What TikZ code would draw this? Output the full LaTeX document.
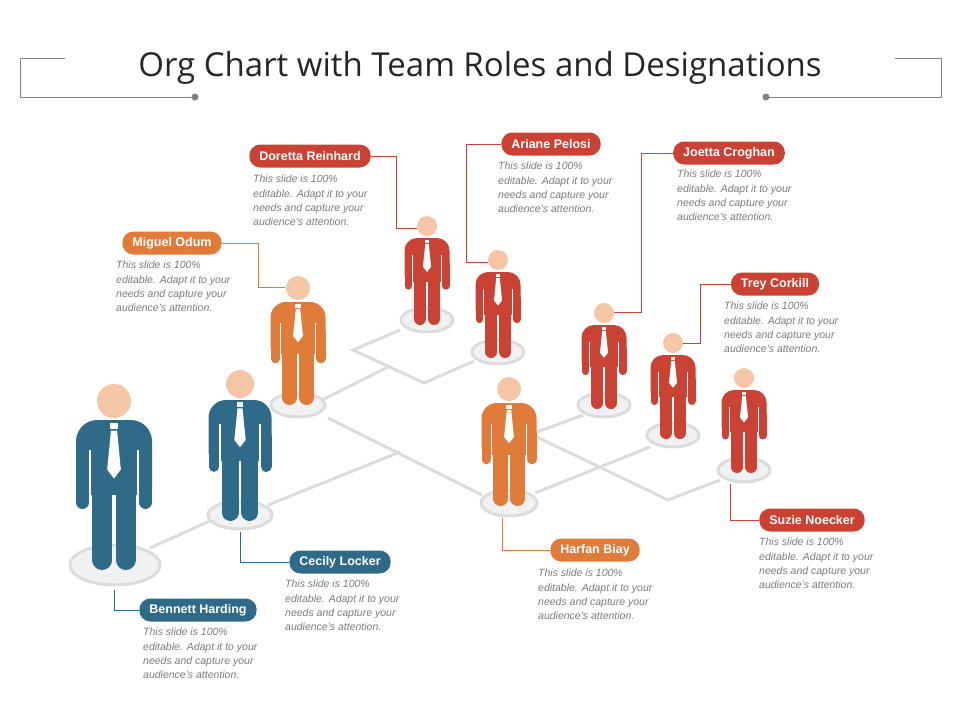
\documentclass[tikz,border=0pt]{standalone}
\usepackage{fontspec}
\setmainfont{Liberation Sans}
\newfontfamily\titlefont{Open Sans}
\definecolor{teal}{HTML}{2F6B88}
\definecolor{orng}{HTML}{E07B39}
\definecolor{rd}{HTML}{C94233}
\definecolor{skin}{HTML}{F5C6A5}
\definecolor{gl}{HTML}{DCDCDC}
\definecolor{txt}{HTML}{7A7A7A}
\tikzset{
 gline/.style={gl,line width=3pt},
 base/.style={draw=gl,line width=3pt,fill=gl!40},
 pill/.style={rounded corners=11pt,minimum height=23pt,text=white,font=\bfseries\fontsize{12.5}{12.5}\selectfont,inner xsep=10pt},
 desc/.style={anchor=north west,align=left,text=txt,font=\itshape\fontsize{10.5}{14.3}\selectfont,inner sep=0pt},
 conn/.style={line width=1pt},
 frame/.style={gray,line width=0.8pt}
}
\newcommand\person[6]{% cx top bottom w color headr
 \pgfmathsetmacro\hh{#3-#2}\pgfmathsetmacro\ww{#4}
 \pgfmathsetmacro\aw{0.17*\ww}\pgfmathsetmacro\rr{0.28*\ww}
 \fill[skin] (#1,#2-#6-2) circle (#6);
 \fill[#5,rounded corners=\rr pt] (#1-\ww/2,#2+0.45*\hh) -- (#1-\ww/2,#2) -- (#1+\ww/2,#2) -- (#1+\ww/2,#2+0.45*\hh);
 \fill[white] (#1-\ww/2+\aw,#2+0.2*\hh) rectangle (#1-\ww/2+\aw*1.15,#2+0.56*\hh);
 \fill[white] (#1+\ww/2-\aw,#2+0.2*\hh) rectangle (#1+\ww/2-\aw*1.15,#2+0.56*\hh);
 \fill[white] (#1-\ww/2-1,#2+0.45*\hh) rectangle (#1+\ww/2+1,#2+0.6*\hh);
 \draw[#5,line width=\aw,line cap=round] (#1-\ww/2+\aw/2,#2+0.3*\hh) -- (#1-\ww/2+\aw/2,#2+0.55*\hh);
 \draw[#5,line width=\aw,line cap=round] (#1+\ww/2-\aw/2,#2+0.3*\hh) -- (#1+\ww/2-\aw/2,#2+0.55*\hh);
 \fill[#5] (#1-\ww/2+\aw*1.15,#2+0.1*\hh) rectangle (#1+\ww/2-\aw*1.15,#2+0.5*\hh);
 \draw[#5,line width=0.27*\ww,line cap=round] (#1-0.155*\ww,#2+0.4*\hh) -- (#1-0.155*\ww,#3-0.135*\ww);
 \draw[#5,line width=0.27*\ww,line cap=round] (#1+0.155*\ww,#2+0.4*\hh) -- (#1+0.155*\ww,#3-0.135*\ww);
 \fill[white] (#1-0.05*\ww,#2+0.02*\hh) rectangle (#1+0.05*\ww,#2+0.06*\hh);
 \fill[white] (#1-0.04*\ww,#2+0.07*\hh) -- (#1+0.04*\ww,#2+0.07*\hh) -- (#1+0.09*\ww,#2+0.33*\hh) -- (#1,#2+0.39*\hh) -- (#1-0.09*\ww,#2+0.33*\hh) -- cycle;
}
\newcommand\dtext{This slide is 100\%\\editable. Adapt it to your\\needs and capture your\\audience's attention.}
\begin{document}
\begin{tikzpicture}[x=1pt,y=-1pt]
\useasboundingbox (0,0) rectangle (960,720);
% title
\node[font=\titlefont\fontsize{33}{33}\selectfont,text=black!85] (title) at (480,68) {Org Chart with Team Roles and Designations};
\draw[frame] (65,58) -- (20,58) -- (20,97) -- (195,97);
\fill[gray] (195,97) circle (3.5);
\draw[frame] (895,58) -- (941,58) -- (941,97) -- (766,97);
\fill[gray] (766,97) circle (3.5);
% grey network
\draw[gline] (150,548) -- (212,520);
\draw[gline] (268,505) -- (400,452);
\draw[gline] (328,418) -- (482,495);
\draw[gline] (322,400) -- (388,367);
\draw[gline] (400,330) -- (353,350) -- (424,383) -- (474,361);
\draw[gline] (537,432) -- (583,415);
\draw[gline] (535,493) -- (650,447);
\draw[gline] (537,437) -- (668,500) -- (720,480);
% bases
\draw[base] (115,565) ellipse (45 and 20);
\draw[base] (240,515) ellipse (32 and 14);
\draw[base] (298,405) ellipse (27 and 12);
\draw[base] (427,320) ellipse (26 and 12);
\draw[base] (498,352) ellipse (26 and 12);
\draw[base] (509,503) ellipse (28 and 13);
\draw[base] (604,405) ellipse (26 and 12);
\draw[base] (673,435) ellipse (26 and 12);
\draw[base] (744,470) ellipse (26 and 12);
% people
\person{114}{420}{570}{76}{teal}{17}
\person{240}{400}{521}{63}{teal}{14}
\person{298}{302}{405}{55}{orng}{12}
\person{427}{238}{325}{45}{rd}{10}
\person{498}{272}{358}{45}{rd}{10}
\person{509}{403}{506}{55}{orng}{12}
\person{604}{325}{409}{45}{rd}{10}
\person{673}{355}{439}{45}{rd}{10}
\person{744}{390}{473}{45}{rd}{10}
% labels
\node[pill,fill=teal] (bh) at (198,610) {Bennett Harding};
\node[desc] at (143,628) {\dtext};
\draw[conn,teal] (114,590) |- (bh.west);
\node[pill,fill=teal] (cl) at (340,562) {Cecily Locker};
\node[desc] at (285,580) {\dtext};
\draw[conn,teal] (240,532) |- (cl.west);
\node[pill,fill=orng] (mo) at (172,243) {Miguel Odum};
\node[desc] at (116,261) {\dtext};
\draw[conn,orng] (mo.east) -- (258,243) |- (285,287);
\node[pill,fill=rd] (dr) at (310,156) {Doretta Reinhard};
\node[desc] at (253,175) {\dtext};
\draw[conn,rd] (dr.east) -- (396,156) |- (417,228);
\node[pill,fill=rd] (ap) at (551,144) {Ariane Pelosi};
\node[desc] at (498,162) {\dtext};
\draw[conn,rd] (ap.west) -- (466,144) |- (488,262);
\node[pill,fill=rd] (jc) at (729,153) {Joetta Croghan};
\node[desc] at (677,170) {\dtext};
\draw[conn,rd] (jc.west) -- (641,153) |- (614,312);
\node[pill,fill=rd] (tc) at (775,284) {Trey Corkill};
\node[desc] at (724,302) {\dtext};
\draw[conn,rd] (tc.west) -- (700,284) |- (683,343);
\node[pill,fill=orng] (hb) at (595,550) {Harfan Biay};
\node[desc] at (538,569) {\dtext};
\draw[conn,orng] (502,518) |- (hb.west);
\node[pill,fill=rd] (sn) at (812,520) {Suzie Noecker};
\node[desc] at (759,538) {\dtext};
\draw[conn,rd] (730,484) |- (sn.west);
\end{tikzpicture}
\end{document}
